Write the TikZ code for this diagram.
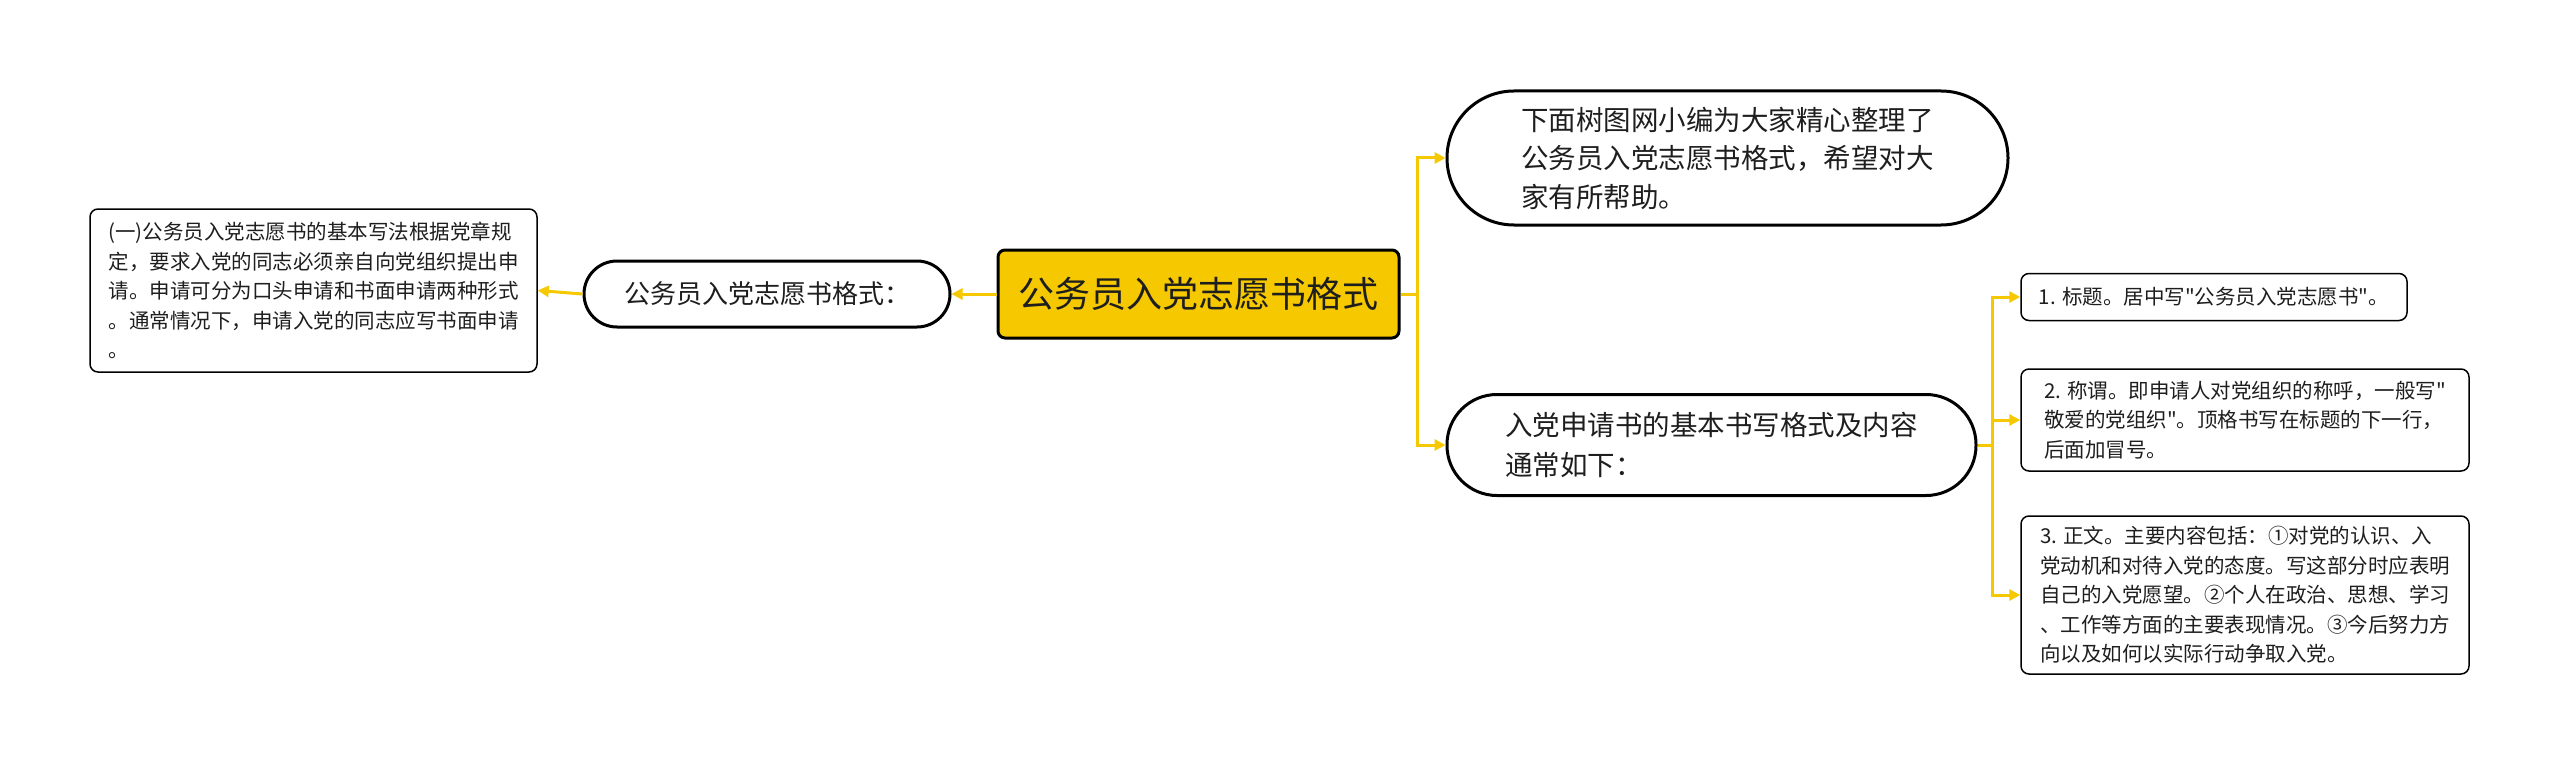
\documentclass[tikz,border=0pt]{standalone}
\usepackage{fontspec}
\newfontfamily\cjk{Noto Sans CJK SC}
\usetikzlibrary{arrows.meta}
\definecolor{gold}{RGB}{245,200,0}
\definecolor{txt}{RGB}{30,30,30}
\begin{document}
\begin{tikzpicture}[x=1pt,y=-1pt,
  box/.style={draw=black, line width=1.5pt, rounded corners=8pt, fill=white, inner sep=0pt, align=left, text=txt, font=\cjk\fontsize{20.5}{29.5}\selectfont},
  pill/.style={draw=black, line width=3pt, fill=white, inner sep=0pt, align=left, text=txt},
  centre/.style={draw=black, line width=3pt, fill=gold, rounded corners=7pt, inner sep=0pt, text=txt, font=\cjk\fontsize{36}{40}\selectfont},
  link/.style={draw=gold, line width=3pt, -{Triangle[length=11pt,width=11pt]}},
]
\useasboundingbox (0,0) rectangle (2560,765);

\node[centre, minimum width=401pt, minimum height=88pt] (C) at (1198.5,294) {公务员入党志愿书格式};

\node[pill, rounded corners=33pt, minimum width=366pt, minimum height=66pt, font=\cjk\fontsize{26}{30}\selectfont] (O1) at (767,294) {公务员入党志愿书格式：};

\node[box, minimum width=447pt, minimum height=163pt] (L) at (313.5,290.5) {(一)公务员入党志愿书的基本写法根据党章规\\定，要求入党的同志必须亲自向党组织提出申\\请。申请可分为口头申请和书面申请两种形式\\。通常情况下，申请入党的同志应写书面申请\\。};

\node[pill, rounded corners=67pt, minimum width=561pt, minimum height=134pt, font=\cjk\fontsize{27.5}{38.5}\selectfont] (T) at (1727.5,158) {下面树图网小编为大家精心整理了\\公务员入党志愿书格式，希望对大\\家有所帮助。};

\node[pill, rounded corners=50pt, minimum width=529pt, minimum height=101pt, font=\cjk\fontsize{27.5}{40}\selectfont] (M) at (1711.5,445) {入党申请书的基本书写格式及内容\\通常如下：};

\node[box, minimum width=386pt, minimum height=47pt] (B1) at (2214,297) {1. 标题。居中写"公务员入党志愿书"。};

\node[box, minimum width=448pt, minimum height=102pt] (B2) at (2245,420) {2. 称谓。即申请人对党组织的称呼，一般写"\\敬爱的党组织"。顶格书写在标题的下一行，\\后面加冒号。};

\node[box, minimum width=448pt, minimum height=158pt] (B3) at (2245,595) {3. 正文。主要内容包括：①对党的认识、入\\党动机和对待入党的态度。写这部分时应表明\\自己的入党愿望。②个人在政治、思想、学习\\、工作等方面的主要表现情况。③今后努力方\\向以及如何以实际行动争取入党。};

\draw[link] (C.west) -- (O1.east);
\draw[link] (O1.west) -- (L.east);
\coordinate (j1) at (1417,294);
\draw[link] (C.east) -- (j1) |- (T.west);
\draw[link] (j1) |- (M.west);
\coordinate (j2) at (1992,445);
\draw[link] (M.east) -- (j2) |- (B1.west);
\draw[link] (j2) |- (B2.west);
\draw[link] (j2) |- (B3.west);
\end{tikzpicture}
\end{document}
